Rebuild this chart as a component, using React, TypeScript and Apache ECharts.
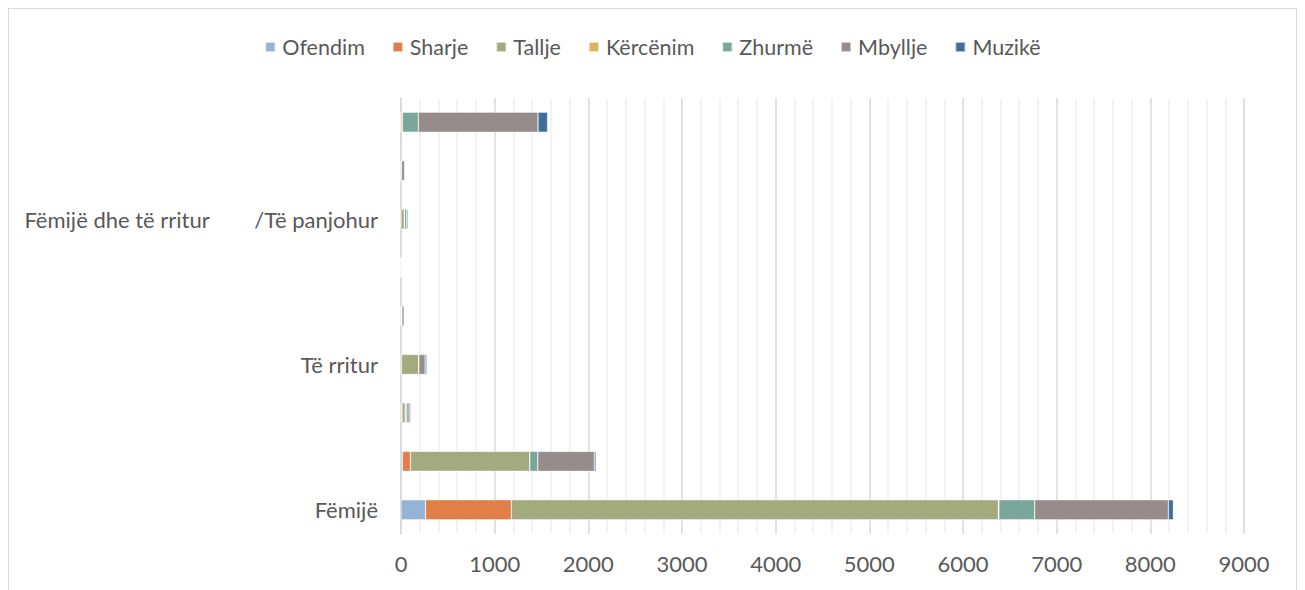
import React, { useEffect, useRef } from "react";
import * as echarts from "echarts";

const categories = [
  "Fëmijë",
  "",
  "",
  "Të rritur",
  "",
  "",
  "Fëmijë dhe të rritur        /Të panjohur",
  "",
  "",
];

const seriesNames = ["Ofendim", "Sharje", "Tallje", "Kërcënim", "Zhurmë", "Mbyllje", "Muzikë"];
const colors = ["#95B3D7", "#E07F47", "#A3AA7E", "#DDB25D", "#7AA79B", "#968C8B", "#3F6E9A"];

const ofendim = [262, 15, 5, 5, 0, 0, 0, 0, 0];
const sharje = [916, 85, 5, 0, 0, 0, 0, 0, 0];
const tallje = [5200, 1275, 35, 185, 5, 0, 35, 5, 0];
const kercenim = [5, 0, 2, 0, 5, 0, 3, 0, 15];
const zhurme = [382, 85, 15, 0, 0, 0, 25, 0, 170];
const mbyllje = [1428, 604, 25, 68, 25, 8, 15, 35, 1278];
const muzike = [53, 18, 15, 17, 0, 0, 0, 0, 102];

const xTicks = [0, 1000, 2000, 3000, 4000, 5000, 6000, 7000, 8000, 9000];

const FONT = "Lato, 'Liberation Sans', sans-serif";

export default function App() {
  const ref = useRef<HTMLDivElement>(null);
  useEffect(() => {
    if (!ref.current) return;
    const chart = echarts.init(ref.current, undefined, { renderer: "svg" });
    const values = [ofendim, sharje, tallje, kercenim, zhurme, mbyllje, muzike];
    chart.setOption({
      animation: false,
      textStyle: { fontFamily: FONT },
      legend: {
        top: 22,
        left: "center",
        itemWidth: 10,
        itemHeight: 10,
        itemGap: 27,
        icon: "rect",
        textStyle: { fontSize: 21.5, color: "#595959", fontFamily: FONT, padding: [0, 0, 0, 2] },
        data: seriesNames,
      },
      grid: { left: 392, right: 52, top: 89, height: 436 },
      xAxis: {
        type: "value",
        min: xTicks[0],
        max: xTicks[xTicks.length - 1],
        interval: 1000,
        axisLine: { show: false },
        axisTick: { show: false },
        axisLabel: {
          fontSize: 22,
          color: "#595959",
          margin: 18,
          fontFamily: FONT,
          formatter: (v: number) => String(v),
        },
        splitLine: { show: true, lineStyle: { color: "#d9d9d9", width: 1.5 } },
        minorTick: { show: false, splitNumber: 5 },
        minorSplitLine: { show: true, lineStyle: { color: "#efefef", width: 1.5 } },
      },
      yAxis: {
        type: "category",
        data: categories,
        axisLine: { show: true, lineStyle: { color: "#d9d9d9", width: 1.5 } },
        axisTick: { show: false },
        axisLabel: { interval: 0, fontSize: 22, color: "#595959", margin: 23, fontFamily: FONT },
      },
      series: seriesNames.map((name, i) => ({
        name,
        type: "bar",
        stack: "total",
        barWidth: 20,
        data: values[i],
        itemStyle: { color: colors[i], borderColor: "rgba(255,255,255,0.6)", borderWidth: 0.6 },
      })),
    });
    return () => chart.dispose();
  }, []);
  return (
    <div
      style={{
        width: 1289,
        height: 600,
        border: "1px solid #d9d9d9",
        boxSizing: "border-box",
        background: "#fff",
      }}
    >
      <div ref={ref} style={{ width: 1287, height: 598 }} />
    </div>
  );
}
